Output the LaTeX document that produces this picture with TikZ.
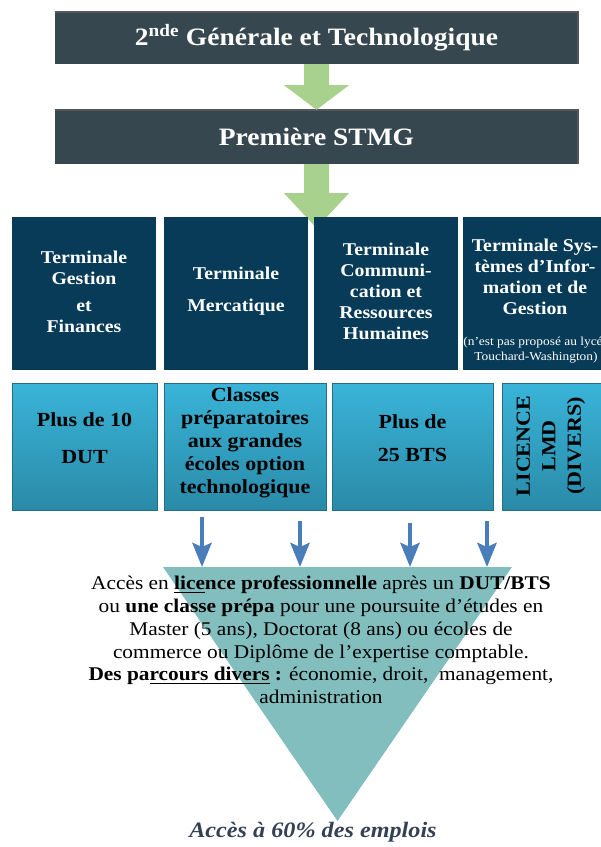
\documentclass[tikz,border=0pt]{standalone}
\usepackage{fontspec}
\setmainfont{Liberation Serif}[FakeStretch=1.1]
\usetikzlibrary{calc,arrows.meta}
\definecolor{slate}{RGB}{55,71,79}
\definecolor{slateedge}{RGB}{85,88,90}
\definecolor{navy}{RGB}{7,59,88}
\definecolor{greenarr}{RGB}{169,209,142}
\definecolor{cyantop}{RGB}{57,180,216}
\definecolor{cyanbot}{RGB}{42,138,168}
\definecolor{arrblue}{RGB}{74,126,187}
\definecolor{funnel}{RGB}{131,190,191}
\definecolor{darktext}{RGB}{52,65,85}
\newsavebox\ulbox
\newcommand\myul[1]{\sbox\ulbox{#1}\rlap{\rule[-3.5pt]{\wd\ulbox}{1.6pt}}\usebox\ulbox}
\tikzset{
  slatebox/.style={fill=slate, text=white, font=\bfseries\fontsize{25}{28}\selectfont,
    minimum width=523pt, minimum height=52pt, inner sep=0pt},
  termbox/.style={fill=navy, minimum width=144pt, minimum height=153pt, inner sep=0pt},
  termtext/.style={text=white, align=center, font=\bfseries\fontsize{18}{21}\selectfont, inner sep=0pt},
  cyanbox/.style={top color=cyantop, bottom color=cyanbot, draw=cyanbot!80!black, line width=0.3pt,
    minimum height=127pt, inner sep=0pt},
  cyantext/.style={text=black, align=center, font=\bfseries\fontsize{20}{23}\selectfont, inner sep=0pt},
  bluearr/.style={draw=arrblue, line width=4.5pt, -{Stealth[length=24pt,width=19pt,inset=4pt]}},
  edgeline/.style={draw=slateedge, line width=1.5pt},
}
\begin{document}
\begin{tikzpicture}[x=1pt,y=-1pt]
\useasboundingbox (0,0) rectangle (601,847);
\clip (0,0) rectangle (601,847);

% top boxes
\node[slatebox] (n2nde) at (316.5,38) {2\textsuperscript{nde} Générale et Technologique};
\node[slatebox, minimum height=54pt] (n1ere) at (316.5,137) {Première STMG};
\draw[edgeline] (n2nde.north west) -- (n2nde.north east) -- (n2nde.south east);
\draw[edgeline] (n1ere.north west) -- (n1ere.north east) -- (n1ere.south east);

% green arrows
\fill[greenarr] ($(n2nde.south)+(-12.5,0)$) -- ($(n2nde.south)+(12.5,0)$) -- ($(n2nde.south)+(12.5,21)$)
  -- ($(n2nde.south)+(32.5,21)$) -- (n1ere.north) -- ($(n2nde.south)+(-32.5,21)$)
  -- ($(n2nde.south)+(-12.5,21)$) -- cycle;
\coordinate (a2tip) at (316.5,228);
\fill[greenarr] ($(n1ere.south)+(-12.5,0)$) -- ($(n1ere.south)+(12.5,0)$) -- ($(n1ere.south)+(12.5,29)$)
  -- ($(n1ere.south)+(32.5,29)$) -- (a2tip) -- ($(n1ere.south)+(-32.5,29)$)
  -- ($(n1ere.south)+(-12.5,29)$) -- cycle;

% terminal boxes
\node[termbox] (t1) at (84,293.5) {};
\node[termbox] (t2) at (236,293.5) {};
\node[termbox] (t3) at (386,293.5) {};
\node[termbox] (t4) at (535,293.5) {};
\node[termtext] (t1t) at (84,292) {Terminale\\Gestion\\[6pt]et\\Finances};
\node[termtext] (t2t) at (236,291) {Terminale\\[11pt]Mercatique};
\node[termtext] (t3t) at (386,291.5) {Terminale\\Communi-\\cation et\\Ressources\\Humaines};
\node[termtext] (t4t) at (535,277) {Terminale Sys-\\tèmes d’Infor-\\mation et de\\Gestion};
\node[termtext, font=\fontsize{12.2}{15}\selectfont] (t4n) at (536,350.5) {(n'est pas proposé au lycée\\Touchard-Washington)};

% second row
\node[cyanbox, minimum width=145pt] (c1) at (84.5,446.5) {};
\node[cyanbox, minimum width=162pt] (c2) at (245,446.5) {};
\node[cyanbox, minimum width=161pt] (c3) at (412.5,446.5) {};
\node[cyanbox, minimum width=104pt] (c4) at (554,446.5) {};
\node[cyantext] (c1t) at (84.5,438) {Plus de 10\\[14pt]DUT};
\node[cyantext] (c2t) at (245,443) {Classes\\préparatoires\\aux grandes\\écoles option\\technologique};
\node[cyantext] (c3t) at (412.5,438) {Plus de\\[10pt]25 BTS};
\node[cyantext, rotate=90, font=\bfseries\fontsize{20}{25.5}\selectfont] (c4t) at (551,446) {LICENCE\\LMD\\(DIVERS)};

% funnel
\coordinate (fl) at (163,567);
\coordinate (fr) at (512,567);
\coordinate (ftip) at (337.5,821);
\fill[funnel] (fl) -- (fr) -- (ftip) -- cycle;

% blue arrows
\coordinate (s1) at (202,517); \coordinate (e1) at (202,567);
\coordinate (s2) at (300,521); \coordinate (e2) at (300,567);
\coordinate (s3) at (410,523); \coordinate (e3) at (410,567);
\coordinate (s4) at (487,521); \coordinate (e4) at (487,567);
\draw[bluearr] (s1) -- (e1);
\draw[bluearr] (s2) -- (e2);
\draw[bluearr] (s3) -- (e3);
\draw[bluearr] (s4) -- (e4);

% funnel text
\node[align=center, inner sep=0pt, font=\fontsize{19.4}{22.7}\selectfont] (ftext) at (321,640) {%
Accès en \textbf{\myul{lice}nce professionnelle} après un \textbf{DUT/BTS}\\
ou \textbf{une classe prépa} pour une poursuite d’études en\\
Master (5 ans), Doctorat (8 ans) ou écoles de\\
commerce ou Diplôme de l’expertise comptable.\\
\textbf{Des pa\myul{rcours divers} :} économie, droit,\ \ management,\\
administration};

\node[inner sep=0pt, text=darktext, font=\bfseries\itshape\fontsize{22}{26}\selectfont] (emp) at (313,832) {Accès à 60\% des emplois};
\end{tikzpicture}
\end{document}
